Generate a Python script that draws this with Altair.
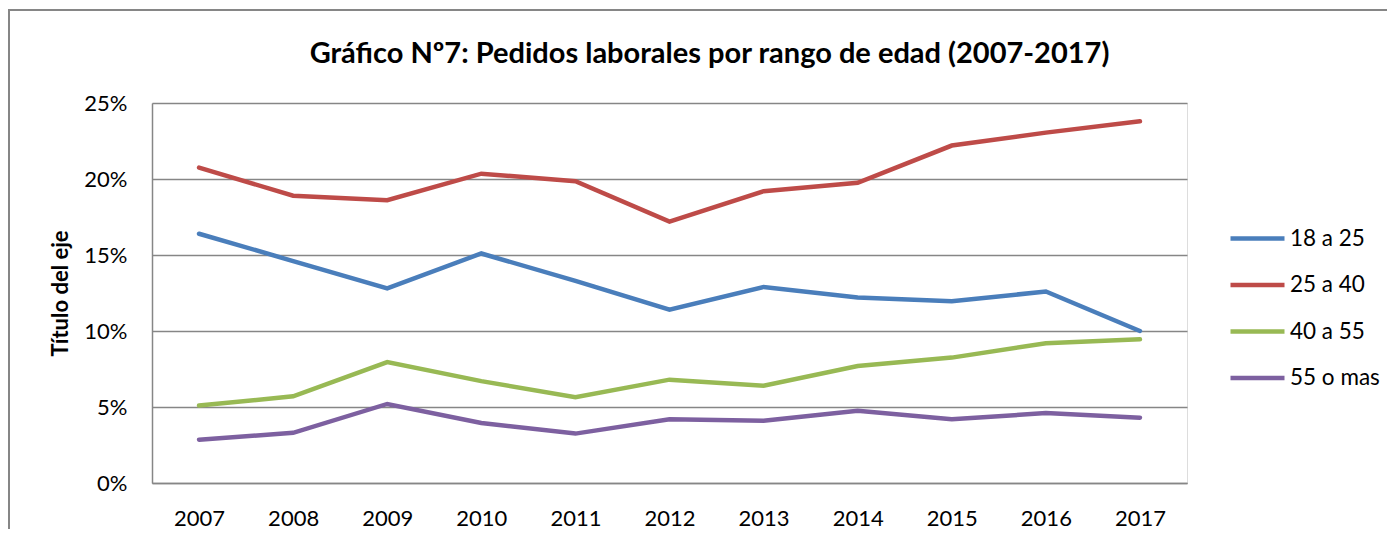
import altair as alt
import pandas as pd

years = ["2007", "2008", "2009", "2010", "2011", "2012", "2013", "2014", "2015", "2016", "2017"]
series_names = ["18 a 25", "25 a 40", "40 a 55", "55 o mas"]
s_18_25 = [16.4, 14.6, 12.8, 15.1, 13.3, 11.4, 12.9, 12.2, 11.95, 12.6, 10.0]
s_25_40 = [20.75, 18.9, 18.6, 20.35, 19.85, 17.2, 19.2, 19.75, 22.2, 23.05, 23.8]
s_40_55 = [5.1, 5.7, 7.95, 6.7, 5.65, 6.8, 6.4, 7.7, 8.25, 9.2, 9.45]
s_55_mas = [2.85, 3.3, 5.2, 3.95, 3.25, 4.2, 4.1, 4.75, 4.2, 4.6, 4.3]
colors = ["#4A7EBB", "#BE4B48", "#98B954", "#7D60A0"]
y_ticks = [0, 0.05, 0.10, 0.15, 0.20, 0.25]

rows = []
for name, vals in zip(series_names, [s_18_25, s_25_40, s_40_55, s_55_mas]):
    for yr, v in zip(years, vals):
        rows.append({"Año": yr, "Serie": name, "Valor": v / 100.0})
df = pd.DataFrame(rows)

FONT = "Lato"
W, H = 1035, 380

lines = alt.Chart(df).mark_line(strokeWidth=4.5, strokeCap="round").encode(
    x=alt.X("Año:O", sort=years,
            scale=alt.Scale(type="point", padding=0.5),
            axis=alt.Axis(title=None, labelAngle=0, labelFontSize=22, labelFont=FONT,
                          labelColor="#000000", labelPadding=25, ticks=False, tickSize=0,
                          domain=True, domainColor="#868686", domainWidth=1.5, grid=False)),
    y=alt.Y("Valor:Q",
            scale=alt.Scale(domain=[0, 0.25], nice=False, zero=True),
            axis=alt.Axis(values=y_ticks, format=".0%", title="Título del eje",
                          titleFont=FONT, titleFontSize=22, titleFontWeight="bold",
                          titleColor="#000000", titleAngle=270, titleX=-80, titleY=H / 2,
                          titleAlign="center", titleBaseline="bottom",
                          labelFontSize=22, labelFont=FONT, labelColor="#000000",
                          labelPadding=25, ticks=False, tickSize=0,
                          domain=True, domainColor="#868686", domainWidth=1.5,
                          grid=True, gridColor="#868686", gridWidth=1.5)),
    color=alt.Color("Serie:N", sort=series_names,
                    scale=alt.Scale(domain=series_names, range=colors),
                    legend=alt.Legend(title=None, orient="none", legendX=1076, legendY=106,
                                      symbolType="stroke", symbolSize=2916,
                                      symbolStrokeWidth=4.5, labelFont=FONT,
                                      labelFontSize=22.5, labelColor="#000000",
                                      labelOffset=3, rowPadding=5.5, padding=0)),
)

border_top = alt.Chart(df).mark_rule(color="#868686", strokeWidth=1.5).encode(
    x=alt.value(-144), x2=alt.value(1238), y=alt.value(-93)
)
border_left = alt.Chart(df).mark_rule(color="#868686", strokeWidth=1.5).encode(
    x=alt.value(-143), y=alt.value(-93), y2=alt.value(H + 50)
)

chart = alt.layer(border_top, border_left, lines).properties(
    width=W, height=H,
    autosize=alt.AutoSizeParams(type="none"),
    padding={"left": 144, "top": 95, "right": 200, "bottom": 46},
    title=alt.TitleParams("Gráfico Nº7: Pedidos laborales por rango de edad (2007-2017)",
                          font=FONT, fontSize=29, fontWeight="bold", color="#000000",
                          anchor="middle", dx=40, dy=91, offset=31),
).configure_view(stroke=None).configure(background="white")

chart.save("out.html", embed_options={"renderer": "svg", "actions": False})
